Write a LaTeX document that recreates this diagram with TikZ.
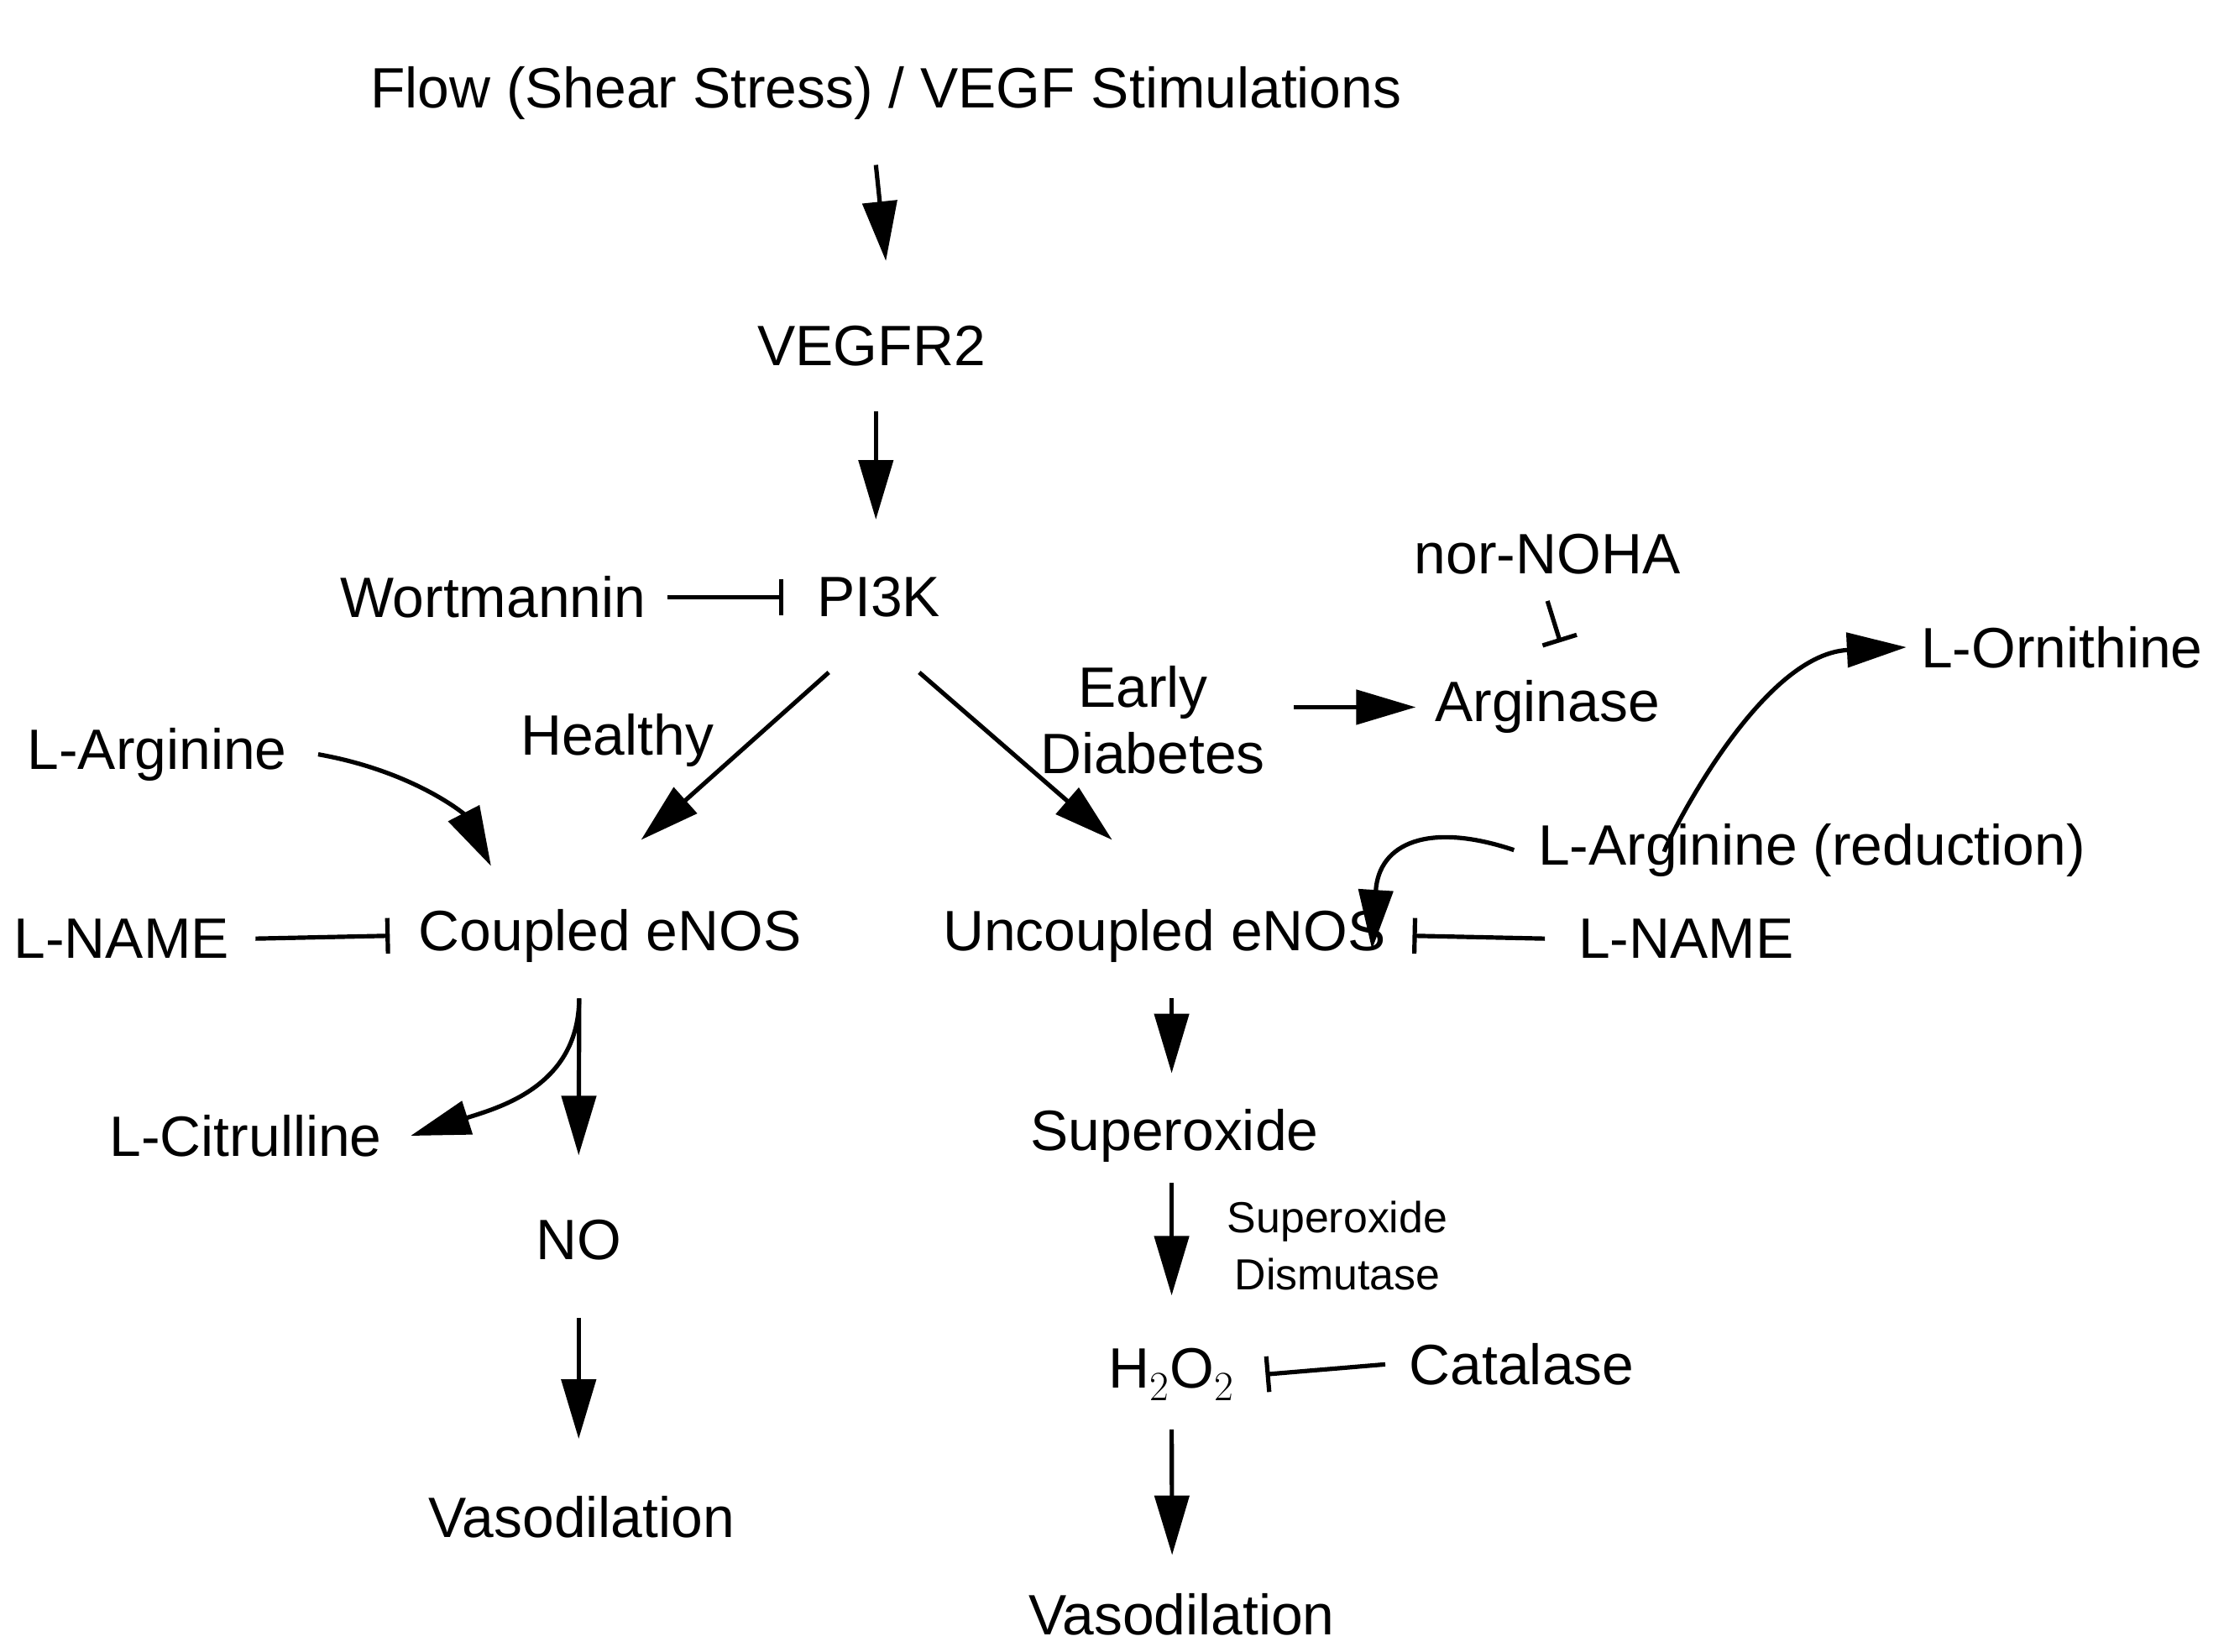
\documentclass[tikz,border=0pt]{standalone}
\usepackage{fontspec}
\setmainfont{Liberation Sans}
\usetikzlibrary{arrows.meta}
\begin{document}
\begin{tikzpicture}[x=0.03cm,y=-0.03cm,
  every node/.style={font=\fontsize{34}{40}\selectfont, inner sep=0pt},
  ln/.style={line width=2.6pt},
  ar/.style={ln,-{Triangle[length=1.25cm,width=0.72cm]}},
  inh/.style={ln,-{Bar[width=0.75cm,line width=2.6pt]}}]
\useasboundingbox (0,0) rectangle (1560,1156);
\node (flow) at (620,65) {Flow (Shear Stress) / VEGF Stimulations};
\node (vegfr) at (610,242) {VEGFR2};
\node (pi3k) at (615,418) {PI3K};
\node (wort) at (345,418) {Wortmannin};
\node (healthy) at (432,518) {Healthy};
\node[align=center] (early) at (800,504) {Early\\\hspace*{0.4cm}Diabetes};
\node (nor) at (1083,388) {nor-NOHA};
\node (arg) at (1083,495) {Arginase};
\node (orn) at (1443,453) {L-Ornithine};
\node (argred) at (1268,595) {L-Arginine (reduction)};
\node (argl) at (110,528) {L-Arginine};
\node (namel) at (85,657) {L-NAME};
\node (coup) at (427,655) {Coupled eNOS};
\node (unc) at (815,655) {Uncoupled eNOS};
\node (namer) at (1180,657) {L-NAME};
\node (cit) at (172,795) {L-Citrulline};
\node (no) at (405,868) {NO};
\node (vas1) at (407,1062) {Vasodilation};
\node (sup) at (822,795) {Superoxide};
\node[align=center,font=\fontsize{26}{34}\selectfont] (sod) at (936,872) {Superoxide\\Dismutase};
\node (h2o2) at (820,962) {H$_2$O$_2$};
\node (cat) at (1065,955) {Catalase};
\node (vas2) at (827,1130) {Vasodilation};

\draw[ar] ([xshift=-7*0.03cm, yshift=-0.95cm]flow.south) -- ([yshift=1.35cm]vegfr.north -| flow.south);
\draw[ar] ([xshift=3*0.03cm,yshift=-0.95cm]vegfr.south) -- ([xshift=-2*0.03cm,yshift=1.2cm]pi3k.north);
\draw[inh] ([xshift=0.45cm]wort.east) -- ([xshift=-0.7cm]pi3k.west);
\draw[ar] ([xshift=-1.05cm,yshift=-1.15cm]pi3k.south) -- ([xshift=0.65cm,yshift=1.45cm]coup.north);
\draw[ar] ([xshift=0.85cm,yshift=-1.15cm]pi3k.south) -- ([xshift=-1.1cm,yshift=1.45cm]unc.north);
\draw[inh] ([yshift=-0.55cm]nor.south) -- ([xshift=0.27cm,yshift=0.8cm]arg.north);
\draw[ar] ([xshift=0.6cm]early.east |- arg) -- ([xshift=-0.4cm]arg.west);
\draw[ar] ([xshift=-3.1cm,yshift=-0.6cm]argred.north) .. controls +(0,-2.5) and (1230,458) .. ([xshift=-0.3cm]orn.west);
\draw[ar] ([xshift=-0.5cm]argred.west) .. controls (1000,575) and (965,590) .. ([xshift=-0.3cm,yshift=-0.85cm]unc.north east);
\draw[ar] ([xshift=0.65cm]argl.east) .. controls (290,540) and (325,570) .. ([xshift=-2.5cm,yshift=0.9cm]coup.north);
\draw[inh] ([xshift=0.55cm]namel.east) -- ([xshift=-0.6cm]coup.west);
\draw[inh] ([xshift=-0.7cm]namer.west) -- ([xshift=0.55cm]unc.east);
\draw[ar] ([xshift=-0.65cm,yshift=-0.75cm]coup.south) -- ([yshift=1.35cm]no.north);
\draw[ar] ([xshift=-0.65cm,yshift=-0.75cm]coup.south) .. controls (405,760) and (350,775) .. ([xshift=0.6cm]cit.east);
\draw[ar] ([yshift=-1.2cm]no.south) -- ([yshift=1.2cm]vas1.north -| no.south);
\draw[ar] ([xshift=0.15cm,yshift=-0.75cm]unc.south) -- ([yshift=0.75cm]sup.north -| 820,0);
\draw[ar] (820,828) -- ([yshift=1.1cm]h2o2.north);
\draw[inh] ([xshift=-0.5cm]cat.west) -- ([xshift=0.65cm]h2o2.east);
\draw[ar] ([yshift=-0.6cm]h2o2.south) -- ([xshift=-0.2cm,yshift=0.8cm]vas2.north);
\end{tikzpicture}
\end{document}
